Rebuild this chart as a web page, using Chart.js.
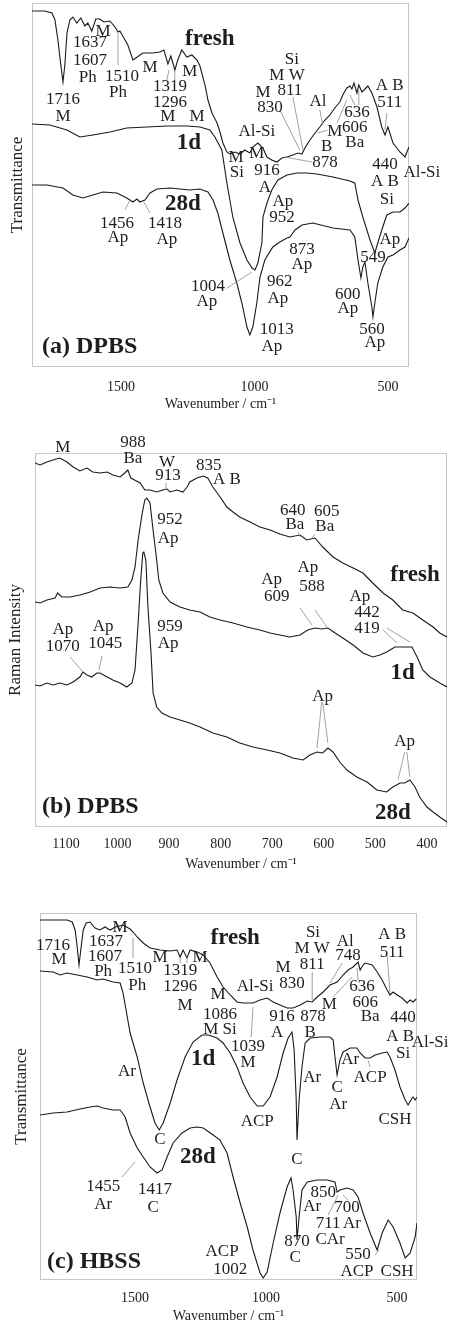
<!DOCTYPE html>
<html><head><meta charset="utf-8">
<script src="https://cdn.jsdelivr.net/npm/chart.js@4.4.1/dist/chart.umd.min.js"></script>
<style>
html,body{margin:0;padding:0;background:#fff;}
body{width:452px;height:1325px;position:relative;overflow:hidden;}
canvas{position:absolute;left:0;}
</style></head><body>
<canvas id="ca" width="452" height="415" style="top:0px"></canvas>
<canvas id="cb" width="452" height="445" style="top:430px"></canvas>
<canvas id="cc" width="452" height="435" style="top:890px"></canvas>
<script>
// ---------- Panel (a) FTIR, DPBS ----------
const aTicks = [1500, 1000, 500];
const aFreshWn = [1833,1785,1758,1747,1736,1725,1717,1710,1702,1691,1680,1665,1650,1635,1624,1609,1594,1579,1564,1541,1522,1511,1504,1493,1474,1455,1444,1418,1380,1354,1339,1324,1313,1298,1287,1272,1253,1234,1215,1204,1185,1174,1159,1140,1129,1118,1103,1092,1073,1054,1036,1017,1006,987,968,953,935,916,897,878,856,837,822,811,792,773,755,736,717,699,680,669,654,642,635,627,616,609,597,586,575,560,541,523,511,500,481,455,436,421];
const aFreshT = [356,356,354,347,327,302,285,302,334,347,350,344,349,341,344,336,348,348,345,346,340,335,336,331,322,307,309,314,314,315,317,303,311,297,307,317,310,312,307,301,282,267,254,244,235,224,215,213,215,213,217,214,220,224,219,210,207,205,209,210,212,214,213,219,227,234,240,247,252,259,265,272,279,281,278,284,274,282,275,278,281,274,260,240,232,240,224,215,210,220];
const a1dWn = [1833,1766,1702,1654,1605,1541,1478,1403,1328,1253,1204,1167,1148,1122,1103,1081,1054,1028,1009,998,987,972,968,953,935,912,878,841,803,766,706,642,624,612,594,567,549,538,523,504,481,455,436,421];
const a1dT = [243,242,237,230,232,235,239,240,241,241,240,237,230,217,184,150,124,107,99,97,104,124,150,164,177,187,192,194,194,193,190,186,184,167,150,127,114,124,137,152,155,155,159,164];
const a28Wn = [1833,1777,1717,1680,1642,1605,1567,1515,1478,1455,1440,1429,1410,1391,1365,1316,1242,1204,1174,1155,1137,1118,1092,1066,1047,1028,1017,1006,991,979,961,931,905,878,867,848,822,781,706,642,624,612,601,594,586,575,560,556,549,538,519,500,481,455,436,421];
const a28T = [182,182,179,172,169,172,175,174,169,165,168,165,167,174,178,179,177,178,175,167,154,134,107,84,64,40,32,40,64,90,107,120,125,129,130,137,142,144,139,137,130,107,89,100,105,84,60,50,64,84,100,110,112,117,120,129];
const aLabText = ['1716','M','M','1637','1607','Ph','1510','Ph','M','1319','1296','M','M','M','Al-Si','M','830','Si','M W','811','Al','M','B','878','636','606','Ba','A B','511','M','Si','M','916','A','Ap','952','440','Al-Si','A B','Si','1456','Ap','1418','Ap','1004','Ap','962','Ap','873','Ap','1013','Ap','Ap','549','600','Ap','560','Ap'];
const aLabWn = [1717,1717,1567,1616,1616,1624,1496,1511,1391,1316,1316,1324,1215,1242,991,968,942,860,878,867,762,699,729,736,616,624,624,493,493,1069,1066,991,953,961,893,897,511,373,511,504,1515,1511,1335,1328,1174,1178,905,912,822,822,916,935,493,556,650,650,560,549];
const aLabVal = [267,250,335,324,306,289,290,274,299,280,264,250,250,295,235,274,259,307,291,276,265,235,220,204,254,239,224,281,264,209,194,213,196,179,165,149,202,194,185,167,143,129,143,127,80,65,85,68,117,102,37,20,127,109,72,58,37,24];
const aNames = ['fresh','1d','28d'];
const aNameWn = [1167,1245,1268];
const aNameVal = [328,224,163];
const aLeaders = [[1511,335,1511,302],[1320,297,1328,287],[1298,297,1298,287],[905,257,830,217],[856,270,818,217],[755,257,744,242],[725,237,763,234],[691,244,654,267],[642,272,624,262],[609,277,609,262],[504,254,511,237],[886,210,785,205],[1485,157,1466,167],[1391,154,1414,165],[1103,79,1009,95]];

// ---------- Panel (b) Raman, DPBS ----------
const bTicks = [1100,1000,900,800,700,600,500,400];
const bFreshWn = [1160,1150,1137,1125,1112,1098,1086,1073,1059,1048,1034,1020,1009,995,986,980,974,967,956,947,937,924,912,904,898,885,873,865,860,846,834,825,815,801,788,776,763,743,724,704,685,666,646,633,617,602,582,563,543,524,505,485,466,447,427,408,388,375,361];
const bFreshI = [364,362,365,367,369,365,360,356,359,355,354,355,352,350,354,357,349,347,344,337,337,335,337,338,335,337,335,340,345,349,351,349,340,330,320,315,310,305,300,297,293,290,292,287,289,280,270,264,259,254,244,234,227,217,214,207,200,194,190];
const b1dWn = [1160,1150,1137,1121,1116,1108,1092,1073,1053,1034,1015,995,980,972,966,960,952,947,943,937,931,924,920,912,898,879,860,840,821,801,776,749,724,704,685,666,646,631,617,604,592,578,563,543,524,505,491,478,462,447,429,419,408,394,375,361];
const b1dI = [225,224,227,229,234,230,230,232,235,239,240,239,240,247,260,287,314,327,329,324,297,267,247,234,225,220,217,215,210,207,204,200,197,194,192,190,192,197,199,198,199,194,189,182,174,170,172,175,180,180,180,170,157,150,144,140];
const b28Wn = [1160,1150,1137,1125,1112,1098,1086,1073,1067,1059,1050,1040,1034,1020,1009,995,982,972,966,960,955,951,949,945,941,935,931,924,914,898,879,860,840,815,788,763,737,710,685,660,640,627,613,602,592,582,569,555,536,516,497,478,466,452,443,433,423,414,400,388,375,361];
const b28I = [142,141,144,142,144,142,145,150,155,152,150,154,154,150,147,144,140,144,157,204,247,274,275,267,220,174,134,120,114,110,107,104,100,94,90,84,80,77,74,69,67,72,75,74,79,75,65,57,50,45,37,35,40,44,44,47,40,30,20,15,10,5];
const bLabText = ['M','988','Ba','W','913','835','A B','640','Ba','605','Ba','952','Ap','Ap','609','Ap','588','Ap','442','419','Ap','1070','Ap','1045','959','Ap','Ap','Ap'];
const bLabWn = [1106,970,970,904,902,823,788,660,656,594,598,898,902,701,691,631,623,530,516,516,1106,1106,1028,1024,898,902,602,443];
const bLabVal = [379,384,368,364,351,361,347,316,302,315,300,307,288,247,230,259,240,230,214,198,197,180,200,183,200,183,130,85];
const bNames = ['fresh','1d','28d'];
const bNameWn = [423,447,466];
const bNameVal = [252,154,14];
const bLeaders = [[906,344,906,337],[650,295,646,290],[617,293,623,289],[646,219,623,202],[617,217,594,200],[485,197,458,184],[478,199,433,185],[1092,170,1067,155],[1030,171,1036,157],[604,125,613,79],[602,125,592,84],[443,75,456,47],[439,75,433,50]];

// ---------- Panel (c) FTIR, HBSS ----------
const cTicks = [1500, 1000, 500];
const cFreshWn = [1863,1760,1740,1729,1721,1714,1706,1698,1687,1672,1653,1634,1615,1595,1576,1546,1519,1508,1492,1469,1443,1405,1366,1340,1328,1317,1302,1290,1263,1240,1214,1187,1164,1137,1111,1088,1050,1023,996,973,947,920,897,870,843,824,805,782,756,729,706,687,668,649,641,630,622,595,576,557,538,527,515,500,481,462,450,439,427];
const cFreshT = [360,360,358,350,333,315,333,350,357,358,352,350,353,350,353,355,351,348,343,337,332,330,329,330,323,330,322,330,328,325,317,303,293,285,278,277,277,280,282,278,275,272,272,275,279,278,283,288,295,298,305,310,313,318,310,315,317,315,308,300,290,285,288,285,282,277,280,278,281];
const c1dWn = [1863,1813,1786,1760,1721,1683,1645,1622,1584,1557,1546,1519,1492,1469,1443,1424,1408,1393,1366,1340,1309,1279,1244,1221,1187,1164,1137,1111,1088,1061,1034,1011,985,958,935,916,901,893,885,882,874,863,851,832,794,756,744,737,729,718,706,679,653,641,622,603,584,557,538,527,508,489,469,458,443,439,431,424];
const c1dT = [309,308,305,307,305,303,300,301,298,297,287,247,223,197,173,157,150,157,177,200,223,238,245,245,242,237,227,213,197,183,174,174,183,203,227,242,248,230,180,140,180,213,237,242,243,243,240,223,205,220,228,232,232,227,222,222,225,227,228,223,210,193,180,175,182,183,180,183];
const c28Wn = [1863,1813,1760,1710,1672,1645,1622,1584,1557,1538,1519,1492,1469,1443,1416,1397,1378,1355,1321,1290,1263,1240,1202,1176,1149,1126,1099,1072,1050,1023,1011,996,973,947,920,905,897,885,882,874,863,843,805,767,737,729,718,691,668,649,630,603,576,557,534,515,489,469,450,431,424];
const c28T = [165,167,168,171,173,174,172,170,170,163,147,132,123,113,107,110,123,137,147,152,153,152,145,140,127,103,77,53,30,7,2,8,37,67,93,102,90,63,40,63,90,98,100,100,98,88,90,92,90,83,67,47,30,47,60,53,37,22,27,43,57];
const cLabText = ['1716','M','1637','1607','Ph','M','1510','Ph','M','1319','1296','M','M','M','Al-Si','M','830','Si','M W','811','Al','748','M','A B','511','636','606','Ba','1086','M Si','1039','M','916','A','878','B','440','A B','Al-Si','Si','Ar','Ar','C','Ar','Ar','ACP','ACP','CSH','C','C','1455','Ar','1417','C','850','Ar','700','711','Ar','CAr','870','C','ACP','1002','550','ACP','CSH'];
const cLabWn = [1813,1790,1611,1615,1622,1557,1500,1492,1405,1328,1328,1309,1252,1183,1042,935,901,821,824,824,698,687,759,519,519,634,622,603,1176,1176,1069,1069,939,958,821,832,477,488,374,477,1531,824,729,725,679,603,1034,508,1405,882,1622,1622,1424,1431,782,824,691,763,672,756,882,889,1168,1137,649,653,500];
const cLabVal = [334,320,338,323,308,352,311,294,322,309,293,274,322,285,293,312,296,347,331,315,338,324,275,345,327,293,277,263,265,250,233,217,263,247,263,247,262,243,237,226,208,202,192,175,220,202,158,160,140,120,93,75,90,72,87,73,72,56,56,40,38,22,28,10,25,8,8];
const cNames = ['fresh','1d','28d'];
const cNameWn = [1118,1240,1260];
const cNameVal = [342,221,123];
const cLeaders = [[1508,342,1508,322],[1328,323,1328,317],[1302,323,1302,317],[824,308,824,280],[710,317,756,297],[744,283,672,303],[649,300,653,312],[538,325,527,287],[1050,273,1057,243],[603,213,611,220],[1550,103,1500,118],[763,65,725,85],[706,85,687,80],[584,25,569,30]];

const FONT = "'Liberation Serif','Times New Roman',serif";
const INK = '#1e1e1e';

const ANN = {
  ca: {text:aLabText, wn:aLabWn, val:aLabVal, names:aNames, nWn:aNameWn, nVal:aNameVal, leaders:aLeaders, panel:'(a) DPBS', px:10, py:20},
  cb: {text:bLabText, wn:bLabWn, val:bLabVal, names:bNames, nWn:bNameWn, nVal:bNameVal, leaders:bLeaders, panel:'(b) DPBS', px:7, py:20},
  cc: {text:cLabText, wn:cLabWn, val:cLabVal, names:cNames, nWn:cNameWn, nVal:cNameVal, leaders:cLeaders, panel:'(c) HBSS', px:7, py:18}
};

const annotPlugin = {
  id: 'annot',
  beforeDatasetsDraw(chart) {
    const {ctx, chartArea: a} = chart;
    ctx.save();
    ctx.strokeStyle = '#c6c6c6';
    ctx.lineWidth = 1;
    ctx.strokeRect(a.left + 0.5, a.top + 0.5, a.right - a.left - 1, a.bottom - a.top - 1);
    ctx.restore();
  },
  afterDatasetsDraw(chart) {
    const o = ANN[chart.canvas.id];
    const {ctx, chartArea: a} = chart;
    const sx = chart.scales.x, sy = chart.scales.y;
    ctx.save();
    ctx.strokeStyle = '#8a8a8a';
    ctx.lineWidth = 0.8;
    o.leaders.forEach(l => {
      ctx.beginPath();
      ctx.moveTo(sx.getPixelForValue(l[0]), sy.getPixelForValue(l[1]));
      ctx.lineTo(sx.getPixelForValue(l[2]), sy.getPixelForValue(l[3]));
      ctx.stroke();
    });
    ctx.fillStyle = INK;
    ctx.textAlign = 'center';
    ctx.textBaseline = 'middle';
    ctx.font = '17px ' + FONT;
    o.text.forEach((t, i) => {
      ctx.fillText(t, sx.getPixelForValue(o.wn[i]), sy.getPixelForValue(o.val[i]));
    });
    ctx.font = 'bold 23px ' + FONT;
    o.names.forEach((t, i) => {
      ctx.fillText(t, sx.getPixelForValue(o.nWn[i]), sy.getPixelForValue(o.nVal[i]));
    });
    ctx.font = 'bold 24px ' + FONT;
    ctx.textAlign = 'left';
    ctx.fillText(o.panel, a.left + o.px, a.bottom - o.py);
    ctx.restore();
  }
};

function series(wn, v) { return wn.map((w, i) => ({x: w, y: v[i]})); }

function build(id, sets, xr, ymax, ticks, yTitle, lay) {
  return new Chart(document.getElementById(id), {
    type: 'line',
    data: {
      datasets: sets.map(s => ({
        data: s, borderColor: '#1a1a1a', borderWidth: 1.1, pointRadius: 0,
        tension: 0, fill: false
      }))
    },
    options: {
      responsive: false, animation: false, events: [],
      layout: {padding: {top: lay.top, right: lay.right, left: 0, bottom: 0}},
      plugins: {legend: {display: false}, tooltip: {enabled: false}},
      scales: {
        x: {
          type: 'linear', reverse: true, min: xr[0], max: xr[1],
          afterBuildTicks: sc => { sc.ticks = ticks.map(v => ({value: v})); },
          afterFit: sc => { sc.height = lay.xh; },
          grid: {display: false, drawTicks: false}, border: {display: false},
          ticks: {font: {family: FONT, size: 14}, color: '#222', padding: lay.tp,
                  maxRotation: 0, autoSkip: false, callback: v => String(v)},
          title: {display: true, text: 'Wavenumber / cm\u207B\u00B9', font: {family: FONT, size: 14},
                  color: '#222', padding: {top: 0, bottom: lay.tb}}
        },
        y: {
          min: 0, max: ymax,
          afterFit: sc => { sc.width = lay.left; },
          ticks: {display: false}, grid: {display: false, drawTicks: false}, border: {display: false},
          title: {display: true, text: yTitle, font: {family: FONT, size: 17}, color: '#222',
                  padding: {top: lay.yt, bottom: 0}}
        }
      }
    },
    plugins: [annotPlugin]
  });
}

build('ca', [series(aFreshWn, aFreshT), series(a1dWn, a1dT), series(a28Wn, a28T)],
      [421, 1833], 364, aTicks, 'Transmittance',
      {top: 3, right: 43, xh: 48, tp: 12, tb: 2, left: 32, yt: 7});
build('cb', [series(bFreshWn, bFreshI), series(b1dWn, b1dI), series(b28Wn, b28I)],
      [361, 1160], 374, bTicks, 'Raman Intensity',
      {top: 23, right: 5, xh: 48, tp: 9, tb: 2, left: 35, yt: 5});
build('cc', [series(cFreshWn, cFreshT), series(c1dWn, c1dT), series(c28Wn, c28T)],
      [424, 1863], 367, cTicks, 'Transmittance',
      {top: 23, right: 35, xh: 45, tp: 10, tb: 0, left: 40, yt: 11});
</script>
</body></html>
